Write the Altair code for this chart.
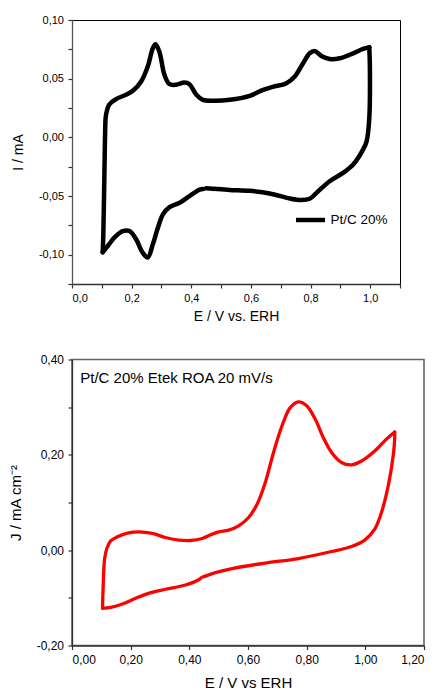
import altair as alt
import pandas as pd

FONT = "Liberation Sans"

# ---------------- top panel data (E / V, I / mA) ----------------
TOP_SERIES = "Pt/C 20%"
E1_AN = [0.103, 0.105, 0.109, 0.111, 0.114, 0.125, 0.148, 0.181, 0.204, 0.232, 0.254, 0.271, 0.280,
         0.293, 0.310, 0.327, 0.349, 0.377, 0.394, 0.417, 0.439, 0.473, 0.529, 0.596, 0.641, 0.674,
         0.719, 0.747, 0.775, 0.797, 0.814, 0.836, 0.864, 0.898, 0.943, 0.976, 0.997]
I1_AN = [-0.098, -0.083, -0.026, 0.002, 0.019, 0.028, 0.0326, 0.0363, 0.0396, 0.0476, 0.0603, 0.0759, 0.0793,
         0.073, 0.0533, 0.0453, 0.0448, 0.0467, 0.0453, 0.0363, 0.032, 0.0312, 0.032, 0.0354, 0.0405, 0.043,
         0.0461, 0.0518, 0.0631, 0.0716, 0.0736, 0.0694, 0.0668, 0.0674, 0.0716, 0.0753, 0.0767]
E1_CA1 = [0.997, 0.999, 0.997, 0.988, 0.976, 0.943, 0.909, 0.864, 0.820, 0.797, 0.769, 0.730, 0.663,
          0.596, 0.528, 0.461, 0.450]
I1_CA1 = [0.0767, 0.0589, 0.0164, -0.0034, -0.0105, -0.0232, -0.0303, -0.0374, -0.0473, -0.0524, -0.0535,
          -0.0521, -0.0478, -0.0456, -0.0448, -0.0436, -0.0435]
E1_CA2 = [0.440, 0.428, 0.394, 0.361, 0.327, 0.305, 0.288, 0.271, 0.254, 0.237, 0.215, 0.193, 0.170,
          0.142, 0.120, 0.103]
I1_CA2 = [-0.0440, -0.0445, -0.0501, -0.0558, -0.0595, -0.0657, -0.0771, -0.0912, -0.1025, -0.0983,
          -0.0869, -0.0799, -0.0799, -0.0855, -0.0926, -0.098]

X1_TICKS = [0.0, 0.1, 0.2, 0.3, 0.4, 0.5, 0.6, 0.7, 0.8, 0.9, 1.0, 1.1]
X1_MAJOR = [0.0, 0.2, 0.4, 0.6, 0.8, 1.0]
X1_LABELS = ["0,0", "0,2", "0,4", "0,6", "0,8", "1,0"]
Y1_TICKS = [-0.125, -0.1, -0.075, -0.05, -0.025, 0.0, 0.025, 0.05, 0.075, 0.1]
Y1_MAJOR = [-0.1, -0.05, 0.0, 0.05, 0.1]
Y1_LABELS = ["-0,10", "-0,05", "0,00", "0,05", "0,10"]

# ---------------- bottom panel data (E / V, J / mA cm-2) ----------------
BOTTOM_NOTE = "Pt/C 20% Etek ROA 20 mV/s"
E2_AN = [0.104, 0.108, 0.111, 0.118, 0.132, 0.155, 0.189, 0.229, 0.274, 0.319, 0.365, 0.404, 0.444,
         0.478, 0.500, 0.534, 0.568, 0.602, 0.631, 0.659, 0.687, 0.716, 0.744, 0.772, 0.800, 0.829,
         0.857, 0.885, 0.919, 0.953, 0.987, 1.032, 1.072, 1.100]
J2_AN = [-0.120, -0.047, -0.019, 0.002, 0.0196, 0.028, 0.0357, 0.0385, 0.035, 0.0266, 0.021, 0.0203, 0.0245,
         0.0336, 0.0385, 0.042, 0.051, 0.0685, 0.0965, 0.142, 0.205, 0.261, 0.299, 0.311, 0.303, 0.275,
         0.236, 0.205, 0.184, 0.179, 0.187, 0.208, 0.233, 0.248]
E2_CA1 = [1.100, 1.100, 1.095, 1.078, 1.055, 1.032, 0.998, 0.953, 0.885, 0.772, 0.659, 0.546, 0.489, 0.447]
J2_CA1 = [0.248, 0.233, 0.198, 0.135, 0.079, 0.044, 0.021, 0.0077, -0.0028, -0.0175, -0.027, -0.0385,
          -0.047, -0.056]
E2_CA2 = [0.440, 0.432, 0.387, 0.319, 0.263, 0.217, 0.172, 0.132, 0.104]
J2_CA2 = [-0.058, -0.062, -0.073, -0.082, -0.090, -0.101, -0.113, -0.120, -0.122]

X2_TICKS = [0.0, 0.1, 0.2, 0.3, 0.4, 0.5, 0.6, 0.7, 0.8, 0.9, 1.0, 1.1, 1.2]
X2_MAJOR = [0.0, 0.2, 0.4, 0.6, 0.8, 1.0, 1.2]
X2_LABELS = ["0,00", "0,20", "0,40", "0,60", "0,80", "1,00", "1,20"]
Y2_TICKS = [-0.2, -0.1, 0.0, 0.1, 0.2, 0.3, 0.4]
Y2_MAJOR = [-0.2, 0.0, 0.2, 0.4]
Y2_LABELS = ["-0,20", "0,00", "0,20", "0,40"]


def build(segments, series):
    rows = []
    k = 0
    for s, (xs, ys) in enumerate(segments):
        for x, y in zip(xs, ys):
            rows.append({"seg": s, "idx": k, "E": x, "V": y, "series": series})
            k += 1
    return pd.DataFrame(rows)


def lab_expr(vals, labs):
    parts = [f"datum.value == {v} ? '{s}'" for v, s in zip(vals, labs)]
    return " : ".join(parts) + " : ''"


df1 = build([(E1_AN, I1_AN), (E1_CA1, I1_CA1), (E1_CA2, I1_CA2)], TOP_SERIES)
df2 = build([(E2_AN, J2_AN), (E2_CA1, J2_CA1), (E2_CA2, J2_CA2)], "red")
note = pd.DataFrame({"E": [0.028], "V": [0.361], "t": [BOTTOM_NOTE]})

ax_common = dict(grid=False, labelFont=FONT, titleFont=FONT, labelColor="#000", titleColor="#000",
                 titleFontWeight="normal", tickSize=4, labelPadding=4.5, tickWidth=1.2,
                 tickColor="#333", domainColor="#333", domainWidth=1.3)

top = alt.Chart(df1).mark_line(
    strokeWidth=4.5, interpolate="catmull-rom", strokeCap="round", strokeJoin="round"
).encode(
    x=alt.X("E:Q", scale=alt.Scale(domain=[0, 1.1], nice=False, zero=False),
            axis=alt.Axis(values=X1_TICKS, labelExpr=lab_expr(X1_MAJOR, X1_LABELS),
                          title="E / V vs. ERH", labelFontSize=11, titleFontSize=14,
                          titlePadding=6.4, **ax_common)),
    y=alt.Y("V:Q", scale=alt.Scale(domain=[-0.125, 0.1], nice=False, zero=False),
            axis=alt.Axis(values=Y1_TICKS, labelExpr=lab_expr(Y1_MAJOR, Y1_LABELS),
                          title="I / mA", labelFontSize=11, titleFontSize=14,
                          titlePadding=12.5, **{**ax_common, "domainColor": "#555"})),
    color=alt.Color("series:N", scale=alt.Scale(range=["#000000"]),
                    legend=alt.Legend(orient="none", legendX=221.5, legendY=183, title=None,
                                      symbolType="stroke", symbolStrokeWidth=4.5, symbolSize=841,
                                      labelFont=FONT, labelFontSize=13.5, labelColor="#000",
                                      labelOffset=3, padding=0)),
    detail="seg:N",
    order="idx:Q",
).properties(width=328, height=264, view=alt.ViewBackground(stroke="#000", strokeWidth=1))

bottom_line = alt.Chart(df2).mark_line(
    color="#ff0000", strokeWidth=3.3, interpolate="catmull-rom", strokeCap="round", strokeJoin="round"
).encode(
    x=alt.X("E:Q", scale=alt.Scale(domain=[0, 1.2], nice=False, zero=False),
            axis=alt.Axis(values=X2_TICKS, labelExpr=lab_expr(X2_MAJOR, X2_LABELS),
                          title="E / V vs ERH", labelFontSize=12, titleFontSize=15,
                          titlePadding=10, **ax_common)),
    y=alt.Y("V:Q", scale=alt.Scale(domain=[-0.2, 0.4], nice=False, zero=False),
            axis=alt.Axis(values=Y2_TICKS, labelExpr=lab_expr(Y2_MAJOR, Y2_LABELS),
                          title="J / mA cm⁻²", labelFontSize=12, titleFontSize=15,
                          titlePadding=12.2, **ax_common)),
    detail="seg:N",
    order="idx:Q",
)

bottom_text = alt.Chart(note).mark_text(
    align="left", baseline="middle", font=FONT, fontSize=15, color="#000"
).encode(x="E:Q", y="V:Q", text="t:N")

bottom = alt.layer(bottom_line, bottom_text).properties(
    width=352, height=286, view=alt.ViewBackground(stroke="#666", strokeWidth=1.6)
)

chart = alt.vconcat(top, bottom, spacing=27.5).properties(
    padding={"left": 0, "top": 5, "right": 0, "bottom": 0}
).configure_view(stroke="#000")

chart.save("out.html", embed_options={"renderer": "svg", "actions": False})
